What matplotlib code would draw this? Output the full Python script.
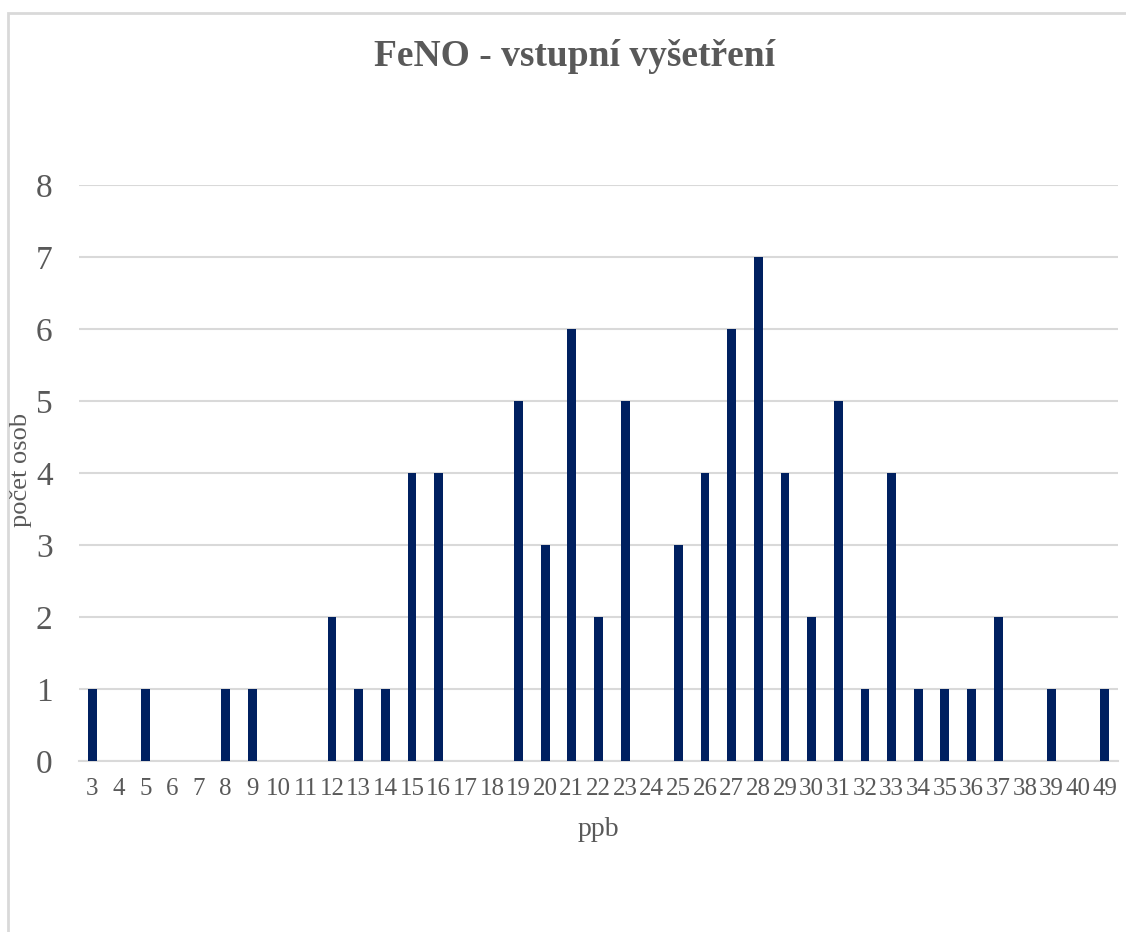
import matplotlib
matplotlib.use("Agg")
import matplotlib.pyplot as plt
from matplotlib.patches import Rectangle

# data
ppb = ["3", "4", "5", "6", "7", "8", "9", "10", "11", "12", "13", "14", "15",
       "16", "17", "18", "19", "20", "21", "22", "23", "24", "25", "26", "27",
       "28", "29", "30", "31", "32", "33", "34", "35", "36", "37", "38", "39",
       "40", "49"]
counts = [1, 0, 1, 0, 0, 1, 1, 0, 0, 2, 1, 1, 4,
          4, 0, 0, 5, 3, 6, 2, 5, 0, 3, 4, 6,
          7, 4, 2, 5, 1, 4, 1, 1, 1, 2, 0, 1,
          0, 1]
y_ticks = [0, 1, 2, 3, 4, 5, 6, 7, 8]

plt.rcParams['font.family'] = ['Liberation Serif', 'DejaVu Serif']
grey = "#595959"

fig = plt.figure(figsize=(11.26, 9.32), dpi=100)
# outer chart border (cut off at right and bottom, like the picture)
fig.patches.append(Rectangle((8 / 1126, -0.05), 1.2, 1 - 13 / 932 + 0.05,
                             transform=fig.transFigure, fill=False,
                             edgecolor="#d9d9d9", linewidth=2))

ax = fig.add_axes([79 / 1126, 1 - 761 / 932, (1118 - 79) / 1126, (761 - 185) / 932])
x = list(range(len(ppb)))
ax.bar(x, counts, width=0.33, color="#002060", zorder=3)

ax.set_xlim(-0.5, len(ppb) - 0.5)
ax.set_ylim(0, 8)
ax.set_yticks(y_ticks)
ax.set_xticks(x)
ax.set_xticklabels(ppb)
ax.grid(axis="y", color="#d9d9d9", linewidth=1.5, zorder=0)
for s in ["top", "right", "left"]:
    ax.spines[s].set_visible(False)
ax.spines["bottom"].set_color("#d9d9d9")
ax.spines["bottom"].set_linewidth(1.5)
ax.tick_params(axis="y", length=0, pad=19, labelsize=24, labelcolor=grey)
ax.tick_params(axis="x", length=0, pad=12, labelsize=18, labelcolor=grey)

fig.text(575 / 1126, 1 - 57 / 932, "FeNO - vstupní vyšetření", ha="center", va="center",
         fontsize=27, fontweight="bold", color=grey)
fig.text(598 / 1126, 1 - 829 / 932, "ppb", ha="center", va="center",
         fontsize=20, color=grey)
# y title sits just left of the tick numbers
fig.text(21 / 1126, 1 - 470 / 932, "počet osob", ha="center", va="center",
         rotation=90, fontsize=19, color=grey)

fig.savefig("out.png", dpi=100)
